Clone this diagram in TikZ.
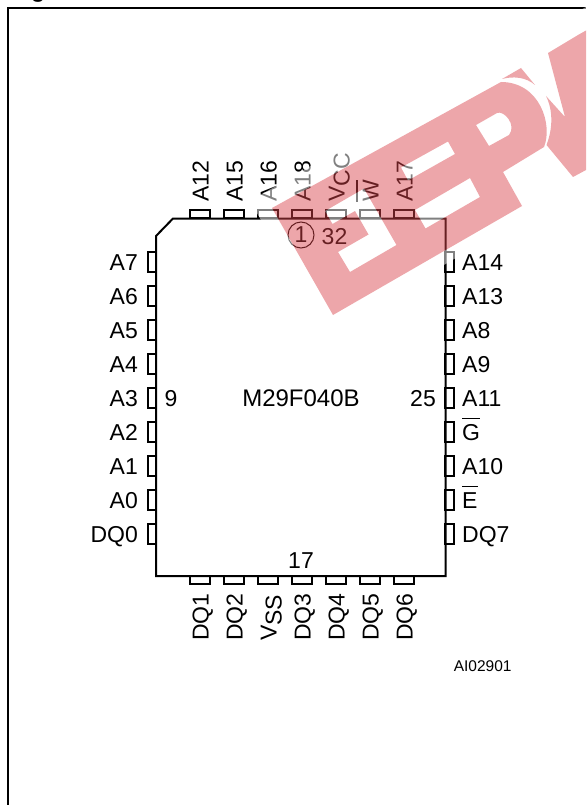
\documentclass[tikz,border=0pt]{standalone}
\usepackage{fontspec}
\setmainfont{Liberation Sans}
\newcommand{\barred}[1]{\vbox{\hrule height 1.2pt\kern 5pt\hbox{#1}}}
\newcommand{\lowered}[2]{#1\lower5pt\hbox{#2}}
\newcommand{\wmletters}{(333,315) -- (522,206) -- (503,172) -- (544,147) .. controls (553,125) and (540,82) .. (501,82) -- (272,208) -- cycle
	(350,272) -- (396.5,245) -- (364,188.5) -- (325,211) -- (332.5,224) -- (355,211) -- (368.5,234.5) -- (338,252) -- cycle
	(448,141.5) -- (455,154) -- (408,180.5) -- (401,167.5) -- cycle
	(470,178) -- (480,197) -- (425.5,228.5) -- (415,210) -- cycle
	(476,125) -- (497,113) .. controls (504,110) and (517,125) .. (509,135) -- (489,146) -- cycle
	(502,79) -- (521,68) -- (535,85) .. controls (526,77) and (513,76) .. (502,79) -- cycle
	(548,53) -- (578,35) -- (586,30.5) -- (586,170) -- (573,177) -- (546.5,145) .. controls (553,128) and (553,110) .. (546,96) -- (565,117) -- cycle}
\tikzset{every node/.style={inner sep=0pt,font=\fontsize{23}{27}\selectfont},
	chipline/.style={line width=2pt,line join=miter},
	pintop/.style={draw,line width=1.8pt,minimum width=20pt,minimum height=8.5pt},
	pinside/.style={draw,line width=1.8pt,minimum width=8.5pt,minimum height=20pt},
	upright/.style={rotate=90,anchor=base west},
	wmink/.style={fill={rgb,1:red,0.85;green,0.26;blue,0.29},fill opacity=0.47,even odd rule},
	wmhalo/.style={fill=white,fill opacity=0.5,even odd rule}}

\begin{document}
\begin{tikzpicture}[x=1pt,y=-1pt]
		\useasboundingbox (0,0) rectangle (586,805);
		\node[anchor=base west,font=\fontsize{23}{27}\selectfont\bfseries] (heading) at (31,-2){g};
		\draw[chipline] (8,805) -- (8,8.5) -- (586,8.5);
		\draw[chipline] (173,218.5) -- (445.5,218.5) -- (445.5,576) -- (156,576) -- (156,236) -- cycle;
		% top and bottom rows
		\foreach \xp/\lab in {200/A12,234/A15,268/A16,302/A18,336/\lowered{V}{CC},370/\barred{W},404/A17}{
			\node[pintop] (pt\xp) at (\xp,214){};
			\node[upright] (lt\xp) at (\xp+8.5,202){\lab};
		}
		\foreach \xp/\lab in {200/DQ1,234/DQ2,268/\lowered{V}{SS},302/DQ3,336/DQ4,370/DQ5,404/DQ6}{
			\node[pintop] (pb\xp) at (\xp,580){};
			\node[upright] (lb\xp) at (\xp+8.5,641){\lab};
		}
		% left and right rows
		\foreach \yp/\lab in {262/A7,296/A6,330/A5,364/A4,398/A3,432/A2,466/A1,500/A0,534/DQ0}{
			\node[pinside] (pl\yp) at (152,\yp){};
			\node[anchor=base east] (ll\yp) at (138,\yp+8){\lab};
		}
		\foreach \yp/\lab in {262/A14,296/A13,330/A8,364/A9,398/A11,432/\barred{G},466/A10,500/\barred{E},534/DQ7}{
			\node[pinside] (pr\yp) at (449.5,\yp){};
			\node[anchor=base west] (lr\yp) at (462,\yp+8){\lab};
		}
		\node[anchor=base,font=\fontsize{24}{27}\selectfont] (chip) at (301,406){M29F040B};
		\node[anchor=base] (n9) at (171,406){9};
		\node[anchor=base] (n25) at (423,406){25};
		\node[anchor=base] (n17) at (301,568){17};
		\node[anchor=base] (n32) at (334.5,244){32};
		\node[circle,draw,line width=1pt,minimum size=26pt] (n1) at (301,235){1};
		\node[anchor=base,font=\fontsize{15.5}{18}\selectfont] (code) at (482.7,671){AI02901};
		% watermark goes over everything
		\fill[wmhalo] (326,333) -- (586,183) -- (586,7) -- (250,201) -- cycle \wmletters;
		\fill[wmink] \wmletters;
\end{tikzpicture}
\end{document}
